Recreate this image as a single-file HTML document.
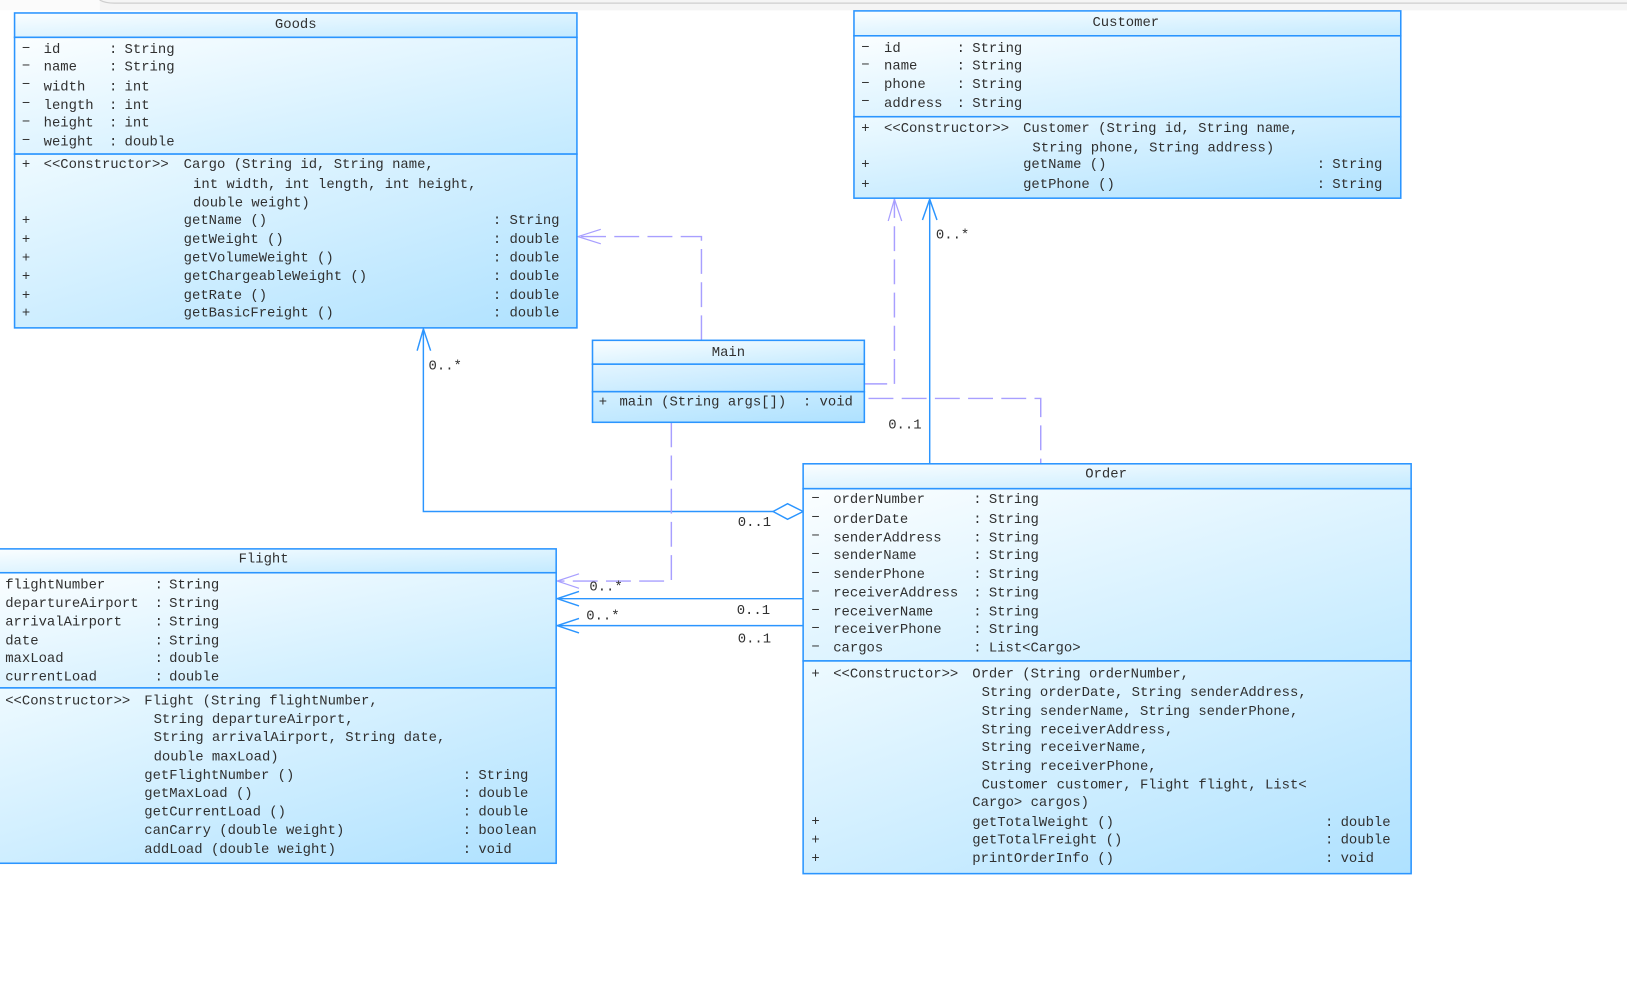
<!DOCTYPE html>
<html>
<head>
<meta charset="utf-8">
<style>
html,body{margin:0;padding:0;background:#fff;width:1627px;height:994px;overflow:hidden}
svg{display:block}
text{font-family:"Liberation Mono","DejaVu Sans Mono",monospace;font-size:13.4px;fill:#303030;white-space:pre}
.t{text-anchor:middle}
.box{stroke:#2b95ff;stroke-width:1.5}
.c{fill:none;stroke:#2b95ff;stroke-width:1.4}
.d{fill:none;stroke:#a89fff;stroke-width:1.4;stroke-dasharray:24 8}
.h{fill:none;stroke:#a89fff;stroke-width:1.2}
.txt{filter:blur(0.3px)}
</style>
</head>
<body>
<svg width="1627" height="994" viewBox="0 0 1568 958" xmlns="http://www.w3.org/2000/svg">
<defs>
<linearGradient id="g" x1="0" y1="0" x2="1" y2="1"><stop offset="0" stop-color="#eefaff"/><stop offset="1" stop-color="#aee1ff"/></linearGradient>
<linearGradient id="g2" x1="0" y1="0" x2="1" y2="1"><stop offset="0" stop-color="#fbfeff"/><stop offset="1" stop-color="#c3eaff"/></linearGradient>
<linearGradient id="g3" x1="0" y1="0" x2="1" y2="1"><stop offset="0" stop-color="#e4f5ff"/><stop offset="1" stop-color="#b6e4ff"/></linearGradient>
<linearGradient id="g4" x1="0" y1="0" x2="1" y2="1"><stop offset="0" stop-color="#d4f0ff"/><stop offset="1" stop-color="#aee1ff"/></linearGradient>
</defs>
<rect x="0" y="0" width="1568" height="958" fill="#fff"/>
<rect x="0" y="0" width="96" height="10" fill="#fbfbfb"/>
<rect x="96" y="0" width="1472" height="10" fill="#f5f5f5"/>
<path d="M96 0 Q101 3 110 3 L1568 3" fill="none" stroke="#cfcfcf" stroke-width="1.2"/>

<!-- Connectors -->
<path class="d" d="M676 328V228H558"/>
<path class="h" d="M579 221L557 228L579 235"/>
<path class="c" style="stroke:#a89fff" d="M833 370H855"/>
<path class="d" d="M862 370V192"/>
<path class="h" d="M856 213L862 192L869 213"/>
<path class="c" d="M896 447V192"/>
<path class="c" d="M889 212L896 192L903 212"/>
<path class="d" d="M837 384H1003V447"/>
<path class="c" d="M408 317V493H745"/>
<path class="c" d="M402 338L408 317L415 338"/>
<path d="M745 493L759 485.500L774 493L759 500.500Z" fill="#fff" stroke="#2b95ff" stroke-width="1.4"/>
<path class="d" d="M647 407V560H538"/>
<path class="h" d="M558 553L537 560L558 567"/>
<path class="c" d="M774 577H537"/>
<path class="c" d="M558 570L537 577L558 584"/>
<path class="c" d="M774 603H537"/>
<path class="c" d="M558 596L537 603L558 610"/>

<!-- Goods -->
<rect x="14" y="12.500" width="542" height="23.500" fill="url(#g2)" class="box"/>
<rect x="14" y="36" width="542" height="112.500" fill="url(#g2)" class="box"/>
<rect x="14" y="148.500" width="542" height="167.500" fill="url(#g)" class="box"/>
<!-- Customer -->
<rect x="823" y="10.500" width="527" height="24" fill="url(#g2)" class="box"/>
<rect x="823" y="34.500" width="527" height="78" fill="url(#g2)" class="box"/>
<rect x="823" y="112.500" width="527" height="78.500" fill="url(#g)" class="box"/>
<!-- Main -->
<rect x="571" y="328" width="262" height="23" fill="url(#g2)" class="box"/>
<rect x="571" y="351" width="262" height="26.500" fill="url(#g3)" class="box"/>
<rect x="571" y="377.500" width="262" height="29.500" fill="url(#g4)" class="box"/>
<!-- Order -->
<rect x="774" y="447" width="586" height="24" fill="url(#g2)" class="box"/>
<rect x="774" y="471" width="586" height="166" fill="url(#g2)" class="box"/>
<rect x="774" y="637" width="586" height="205" fill="url(#g)" class="box"/>
<!-- Flight -->
<rect x="-5" y="529" width="541" height="23" fill="url(#g2)" class="box"/>
<rect x="-5" y="552" width="541" height="111" fill="url(#g2)" class="box"/>
<rect x="-5" y="663" width="541" height="169" fill="url(#g)" class="box"/>

<g class="txt" transform="translate(0,-1)">
<text x="285" y="28" class="t">Goods</text>
<text x="21" y="51">−</text><text x="42" y="52">id</text><text x="105" y="52">:</text><text x="120" y="52">String</text>
<text x="21" y="68">−</text><text x="42" y="69">name</text><text x="105" y="69">:</text><text x="120" y="69">String</text>
<text x="21" y="86">−</text><text x="42" y="88">width</text><text x="105" y="88">:</text><text x="120" y="88">int</text>
<text x="21" y="104">−</text><text x="42" y="106">length</text><text x="105" y="106">:</text><text x="120" y="106">int</text>
<text x="21" y="122">−</text><text x="42" y="123">height</text><text x="105" y="123">:</text><text x="120" y="123">int</text>
<text x="21" y="140">−</text><text x="42" y="141">weight</text><text x="105" y="141">:</text><text x="120" y="141">double</text>
<text x="21" y="163">+</text><text x="42" y="163">&lt;&lt;Constructor&gt;&gt;</text><text x="177" y="163">Cargo (String id, String name,</text>
<text x="186" y="182">int width, int length, int height,</text>
<text x="186" y="200">double weight)</text>
<text x="21" y="217">+</text><text x="177" y="217">getName ()</text><text x="475" y="217">:</text><text x="491" y="217">String</text>
<text x="21" y="235">+</text><text x="177" y="235">getWeight ()</text><text x="475" y="235">:</text><text x="491" y="235">double</text>
<text x="21" y="253">+</text><text x="177" y="253">getVolumeWeight ()</text><text x="475" y="253">:</text><text x="491" y="253">double</text>
<text x="21" y="271">+</text><text x="177" y="271">getChargeableWeight ()</text><text x="475" y="271">:</text><text x="491" y="271">double</text>
<text x="21" y="289">+</text><text x="177" y="289">getRate ()</text><text x="475" y="289">:</text><text x="491" y="289">double</text>
<text x="21" y="306">+</text><text x="177" y="306">getBasicFreight ()</text><text x="475" y="306">:</text><text x="491" y="306">double</text>

<text x="1085" y="26" class="t">Customer</text>
<text x="830" y="50">−</text><text x="852" y="51">id</text><text x="922" y="51">:</text><text x="937" y="51">String</text>
<text x="830" y="67">−</text><text x="852" y="68">name</text><text x="922" y="68">:</text><text x="937" y="68">String</text>
<text x="830" y="85">−</text><text x="852" y="86">phone</text><text x="922" y="86">:</text><text x="937" y="86">String</text>
<text x="830" y="102">−</text><text x="852" y="104">address</text><text x="922" y="104">:</text><text x="937" y="104">String</text>
<text x="830" y="128">+</text><text x="852" y="128">&lt;&lt;Constructor&gt;&gt;</text><text x="986" y="128">Customer (String id, String name,</text>
<text x="995" y="147">String phone, String address)</text>
<text x="830" y="163">+</text><text x="986" y="163">getName ()</text><text x="1269" y="163">:</text><text x="1284" y="163">String</text>
<text x="830" y="182">+</text><text x="986" y="182">getPhone ()</text><text x="1269" y="182">:</text><text x="1284" y="182">String</text>

<text x="702" y="344" class="t">Main</text>
<text x="577" y="392">+</text><text x="597" y="392">main (String args[])  : void</text>

<text x="1066" y="461" class="t">Order</text>
<text x="782" y="485">−</text><text x="803" y="486">orderNumber</text><text x="938" y="486">:</text><text x="953" y="486">String</text>
<text x="782" y="503">−</text><text x="803" y="505">orderDate</text><text x="938" y="505">:</text><text x="953" y="505">String</text>
<text x="782" y="521">−</text><text x="803" y="523">senderAddress</text><text x="938" y="523">:</text><text x="953" y="523">String</text>
<text x="782" y="539">−</text><text x="803" y="540">senderName</text><text x="938" y="540">:</text><text x="953" y="540">String</text>
<text x="782" y="557">−</text><text x="803" y="558">senderPhone</text><text x="938" y="558">:</text><text x="953" y="558">String</text>
<text x="782" y="575">−</text><text x="803" y="576">receiverAddress</text><text x="938" y="576">:</text><text x="953" y="576">String</text>
<text x="782" y="593">−</text><text x="803" y="594">receiverName</text><text x="938" y="594">:</text><text x="953" y="594">String</text>
<text x="782" y="610">−</text><text x="803" y="611">receiverPhone</text><text x="938" y="611">:</text><text x="953" y="611">String</text>
<text x="782" y="628">−</text><text x="803" y="629">cargos</text><text x="938" y="629">:</text><text x="953" y="629">List&lt;Cargo&gt;</text>
<text x="782" y="654">+</text><text x="803" y="654">&lt;&lt;Constructor&gt;&gt;</text><text x="937" y="654">Order (String orderNumber,</text>
<text x="946" y="672">String orderDate, String senderAddress,</text>
<text x="946" y="690">String senderName, String senderPhone,</text>
<text x="946" y="708">String receiverAddress,</text>
<text x="946" y="725">String receiverName,</text>
<text x="946" y="743">String receiverPhone,</text>
<text x="946" y="761">Customer customer, Flight flight, List&lt;</text>
<text x="937" y="778">Cargo&gt; cargos)</text>
<text x="782" y="796">+</text><text x="937" y="797">getTotalWeight ()</text><text x="1277" y="797">:</text><text x="1292" y="797">double</text>
<text x="782" y="814">+</text><text x="937" y="814">getTotalFreight ()</text><text x="1277" y="814">:</text><text x="1292" y="814">double</text>
<text x="782" y="832">+</text><text x="937" y="832">printOrderInfo ()</text><text x="1277" y="832">:</text><text x="1292" y="832">void</text>

<text x="254" y="543" class="t">Flight</text>
<text x="5" y="568">flightNumber</text><text x="149" y="568">:</text><text x="163" y="568">String</text>
<text x="5" y="586">departureAirport</text><text x="149" y="586">:</text><text x="163" y="586">String</text>
<text x="5" y="604">arrivalAirport</text><text x="149" y="604">:</text><text x="163" y="604">String</text>
<text x="5" y="622">date</text><text x="149" y="622">:</text><text x="163" y="622">String</text>
<text x="5" y="639">maxLoad</text><text x="149" y="639">:</text><text x="163" y="639">double</text>
<text x="5" y="657">currentLoad</text><text x="149" y="657">:</text><text x="163" y="657">double</text>
<text x="5" y="680">&lt;&lt;Constructor&gt;&gt;</text><text x="139" y="680">Flight (String flightNumber,</text>
<text x="148" y="698">String departureAirport,</text>
<text x="148" y="715">String arrivalAirport, String date,</text>
<text x="148" y="734">double maxLoad)</text>
<text x="139" y="752">getFlightNumber ()</text><text x="446" y="752">:</text><text x="461" y="752">String</text>
<text x="139" y="769">getMaxLoad ()</text><text x="446" y="769">:</text><text x="461" y="769">double</text>
<text x="139" y="787">getCurrentLoad ()</text><text x="446" y="787">:</text><text x="461" y="787">double</text>
<text x="139" y="805">canCarry (double weight)</text><text x="446" y="805">:</text><text x="461" y="805">boolean</text>
<text x="139" y="823">addLoad (double weight)</text><text x="446" y="823">:</text><text x="461" y="823">void</text>

<text x="902" y="231">0..*</text>
<text x="856" y="414">0..1</text>
<text x="413" y="357">0..*</text>
<text x="711" y="508">0..1</text>
<text x="568" y="570">0..*</text>
<text x="710" y="593">0..1</text>
<text x="565" y="598">0..*</text>
<text x="711" y="620">0..1</text>
</g>
</svg>
</body>
</html>
